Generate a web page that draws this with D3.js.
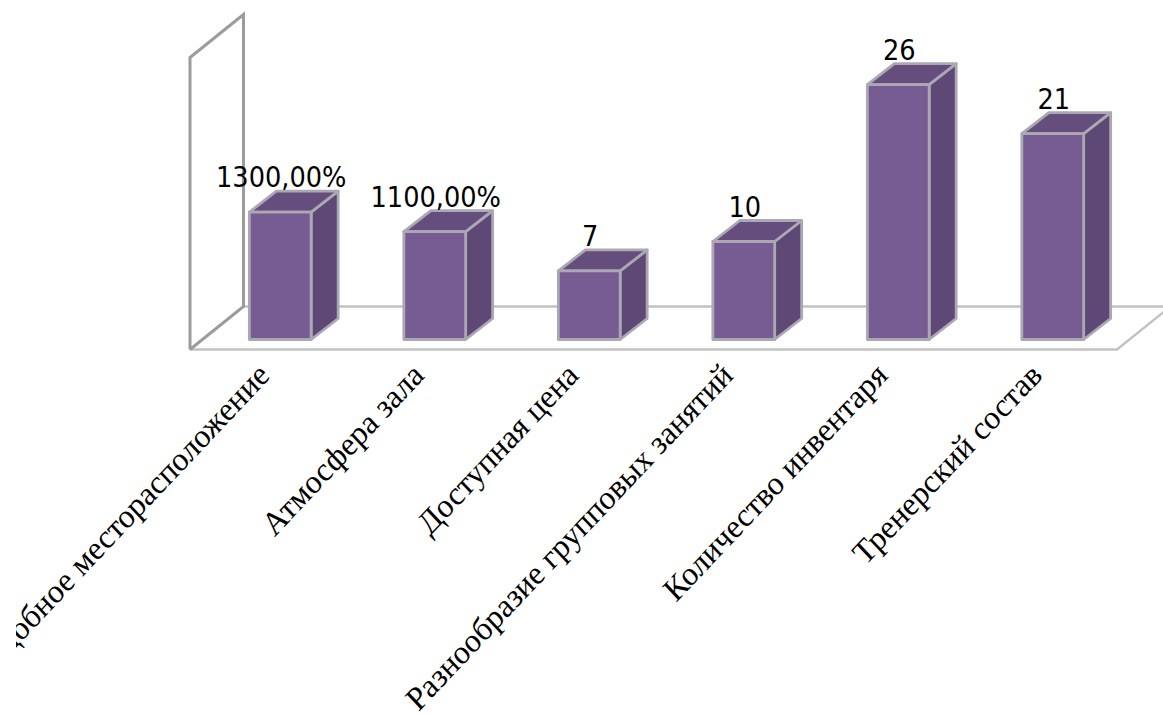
<!DOCTYPE html>
<html lang="ru">
<head>
<meta charset="utf-8">
<script src="https://cdn.jsdelivr.net/npm/d3@7/dist/d3.min.js"></script>
<style>
html,body{margin:0;padding:0;background:#fff;overflow:hidden}
svg{display:block}
.value{font-family:"DejaVu Sans",sans-serif;font-stretch:condensed;font-size:28.5px;fill:#000}
.cat{font-family:"Liberation Serif",serif;font-size:31.5px;fill:#000}
</style>
</head>
<body>
<svg width="1163" height="714"></svg>
<script>
// Survey results: 3D-style column chart
const categories = ["Удобное месторасположение","Атмосфера зала","Доступная цена","Разнообразие групповых занятий","Количество инвентаря","Тренерский состав"];
const values = [13, 11, 7, 10, 26, 21];
const valueLabels = ["1300,00%","1100,00%","7","10","26","21"];

const depth = {dx: 27, dy: -21};
const wallDepth = {dx: 53.5, dy: -43};
const floorY = 349.5, floorLeft = 190, floorRight = 1117;
const faces = {front: "#775b93", side: "#5e4875", top: "#654e7e", edge: "#aba8b4"};

const svg = d3.select("svg");
const x = d3.scaleBand().domain(categories).range([floorLeft, floorRight]).paddingInner(0.6).paddingOuter(0.3);
const y = d3.scaleLinear().domain([0, 30]).range([339.5, 45.5]);
const shiftX = 13;

// category labels are cut off by the chart's left margin
svg.append("clipPath").attr("id", "plot-area").append("rect")
  .attr("x", 16).attr("y", 0).attr("width", 1147).attr("height", 714);

const frame = svg.append("g").attr("fill", "none");
const wallTop = y(30) + 12;
// floor first, then the back wall over it
frame.append("path").attr("stroke", "#c2c2c2").attr("stroke-width", 2.4)
  .attr("d", d3.line()([[floorLeft, floorY], [floorRight, floorY], [floorRight + wallDepth.dx, floorY + wallDepth.dy], [floorLeft + wallDepth.dx, floorY + wallDepth.dy]]));
frame.append("path").attr("stroke", "#9c9c9c").attr("stroke-width", 3)
  .attr("d", d3.line()([[floorLeft, floorY], [floorLeft, wallTop], [floorLeft + wallDepth.dx, wallTop + wallDepth.dy], [floorLeft + wallDepth.dx, floorY + wallDepth.dy], [floorLeft, floorY]]));

const bars = svg.append("g").selectAll("g").data(categories.map((c, i) => ({c, v: values[i], label: valueLabels[i]}))).join("g");
const line = d3.line();
const strokeBar = s => s.attr("stroke", faces.edge).attr("stroke-width", 2.8).attr("stroke-linejoin", "round");

bars.append("path").attr("fill", faces.side).call(strokeBar).attr("d", d => {
  const r = x(d.c) + x.bandwidth() + shiftX;
  return line([[r, y(0)], [r, y(d.v)], [r + depth.dx, y(d.v) + depth.dy], [r + depth.dx, y(0) + depth.dy]]) + "Z";
});
bars.append("path").attr("fill", faces.top).call(strokeBar).attr("d", d => {
  const l = x(d.c) + shiftX, r = l + x.bandwidth();
  return line([[l, y(d.v)], [r, y(d.v)], [r + depth.dx, y(d.v) + depth.dy], [l + depth.dx, y(d.v) + depth.dy]]) + "Z";
});
bars.append("rect").attr("fill", faces.front).call(strokeBar)
  .attr("x", d => x(d.c) + shiftX).attr("y", d => y(d.v))
  .attr("width", x.bandwidth()).attr("height", d => y(0) - y(d.v));

bars.append("text").attr("class", "value").attr("text-anchor", "middle")
  .attr("x", d => x(d.c) + shiftX + x.bandwidth() / 2 + 1)
  .attr("y", d => y(d.v) - 25)
  .text(d => d.label);

svg.append("g").attr("clip-path", "url(#plot-area)").selectAll("text").data(categories).join("text").attr("class", "cat")
  .attr("text-anchor", "end")
  .attr("transform", d => `translate(${x(d) + shiftX + x.bandwidth() / 2 - 9},${377}) scale(1,1.06) rotate(-45)`)
  .text(d => d);
</script>
</body>
</html>
